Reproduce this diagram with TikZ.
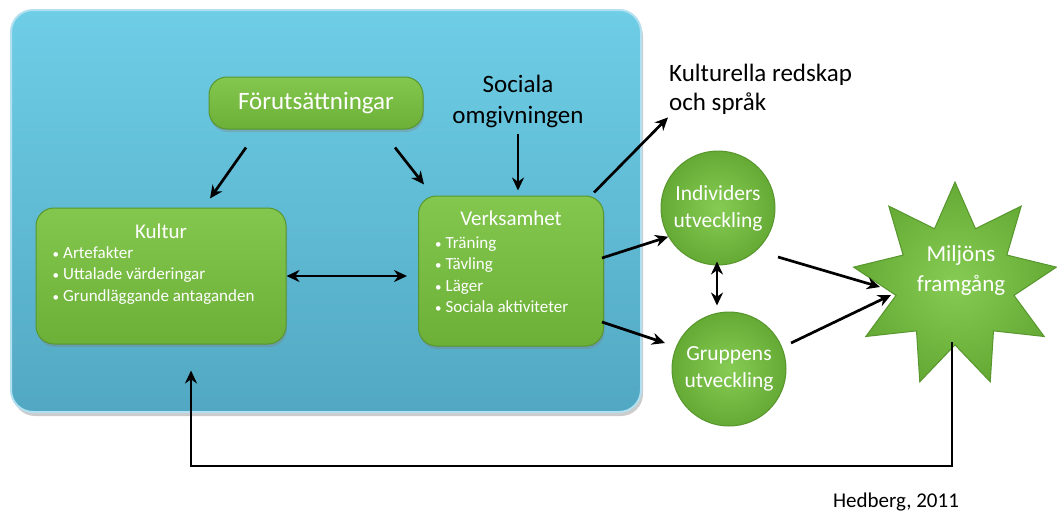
\documentclass[tikz,border=0pt]{standalone}
\usepackage{fontspec}
\setmainfont{Carlito}
\usetikzlibrary{shapes, shapes.geometric, positioning, arrows.meta, shadows}

\definecolor{panelTop}{RGB}{110,206,230}
\definecolor{panelBot}{RGB}{82,168,194}
\definecolor{panelEdge}{RGB}{178,224,240}
\definecolor{greenTop}{RGB}{132,199,78}
\definecolor{greenBot}{RGB}{108,176,56}
\definecolor{greenEdge}{RGB}{88,150,46}
\definecolor{greenIn}{RGB}{134,204,84}
\definecolor{greenOut}{RGB}{100,170,52}

\newcommand{\fsize}[2]{\fontsize{#1}{#2}\selectfont}
\newcommand{\dotitem}{{\fsize{13}{13}•}\hspace{4pt}}

\begin{document}
\begin{tikzpicture}[x=1pt, y=-1pt, >={Stealth[length=13pt,width=12pt]}]
\tikzstyle{panel}=[draw=panelEdge, line width=2pt, rounded corners=22pt, top color=panelTop, bottom color=panelBot, drop shadow={shadow xshift=2pt, shadow yshift=-4pt, opacity=0.4}]
\tikzstyle{greenbox}=[draw=greenEdge, line width=1pt, rounded corners=18pt, top color=greenTop, bottom color=greenBot, drop shadow={shadow xshift=1pt, shadow yshift=-3pt, opacity=0.35}]
\tikzstyle{greenball}=[circle, draw=greenEdge, line width=1pt, inner color=greenIn, outer color=greenOut, minimum size=114pt, inner sep=0pt, text=white, align=center, font=\fsize{21.5}{27}]
\tikzstyle{head}=[text=white, inner sep=0pt, font=\fsize{21}{26}]
\tikzstyle{bullets}=[text=white, align=left, inner sep=0pt, anchor=north west, font=\fsize{17}{21.3}]
\tikzstyle{arrow}=[->, line width=2.7pt]
\tikzstyle{twoway}=[<->, line width=2.7pt]

\useasboundingbox (0,0) rectangle (1057,515);

% blue frame
\node[panel, minimum width=630pt, minimum height=402pt] (panel) at (326,211) {};

% boxes in the frame
\node[greenbox, minimum width=214pt, minimum height=52pt, text=white, font=\fsize{25}{30}] (forut) at (316,103) {Förutsättningar};
\node[greenbox, minimum width=250pt, minimum height=136pt] (kultur) at (161,276) {};
\node[head] (kulturhead) at ([yshift=-24pt]kultur.north) {Kultur};
\node[bullets] (kulturlist) at ([xshift=17pt,yshift=-39pt]kultur.north west)
  {\dotitem Artefakter\\\dotitem Uttalade värderingar\\\dotitem Grundläggande antaganden};
\node[greenbox, minimum width=185pt, minimum height=150pt] (verks) at (511,271) {};
\node[head] (verkshead) at ([yshift=-23pt]verks.north) {Verksamhet};
\node[bullets] (verkslist) at ([xshift=17pt,yshift=-41pt]verks.north west)
  {\dotitem Träning\\\dotitem Tävling\\\dotitem Läger\\\dotitem Sociala aktiviteter};

% free texts
\node[align=center, inner sep=2pt, font=\fsize{25}{31}] (sociala) at (518,101) {Sociala\\omgivningen};
\node[align=left, anchor=west, inner sep=0pt, font=\fsize{25}{29}] (redskap) at (669,89) {Kulturella redskap\\och språk};
\node[font=\fsize{21}{25}] (cite) at (896,502) {Hedberg, 2011};

% outcomes
\node[greenball] (indiv) at (718,208) {Individers\\utveckling};
\node[greenball] (grupp) at (729,369) {Gruppens\\utveckling};
\node[star, star points=9, star point ratio=1.72, minimum size=206pt, inner sep=0pt, draw=greenEdge, line width=1pt, inner color=greenIn, outer color=greenOut] (star) at (955,285) {};
\node[text=white, align=center, inner sep=0pt, font=\fsize{23}{30}] (miljo) at (961,270) {Miljöns\\framgång};

\path[arrow]
([xshift=-70pt,yshift=-18pt]forut.south) edge ([xshift=49pt,yshift=9pt]kultur.north)
([xshift=79pt,yshift=-18pt]forut.south) edge ([xshift=-87pt,yshift=11pt]verks.north)
([yshift=-4pt]sociala.south) edge ([xshift=7pt,yshift=5pt]verks.north)
([xshift=-10pt,yshift=3pt]verks.north east) edge ([xshift=-1pt,yshift=-3pt]redskap.south west)
([xshift=-2pt,yshift=13pt]verks.east) edge (indiv.210)
([xshift=-2pt,yshift=-51pt]verks.east) edge ([xshift=-64pt,yshift=26pt]grupp.center)
([xshift=60pt,yshift=-49pt]indiv.center) edge ([xshift=-75pt,yshift=-2pt]star.center)
([xshift=62pt,yshift=26pt]grupp.center) edge ([xshift=-64pt,yshift=-10pt]star.center);

\path[twoway]
(kultur.east) edge ([xshift=-11pt]kultur.east -| verks.west)
([xshift=-1pt,yshift=4pt]indiv.south) edge ([xshift=-12pt,yshift=6pt]grupp.north);

% feedback loop
\draw[->, line width=2.4pt] ([xshift=-3pt,yshift=-57pt]star.center) -- ++(0,124) -| ([xshift=30pt,yshift=-26pt]kultur.south);

\end{tikzpicture}
\end{document}
